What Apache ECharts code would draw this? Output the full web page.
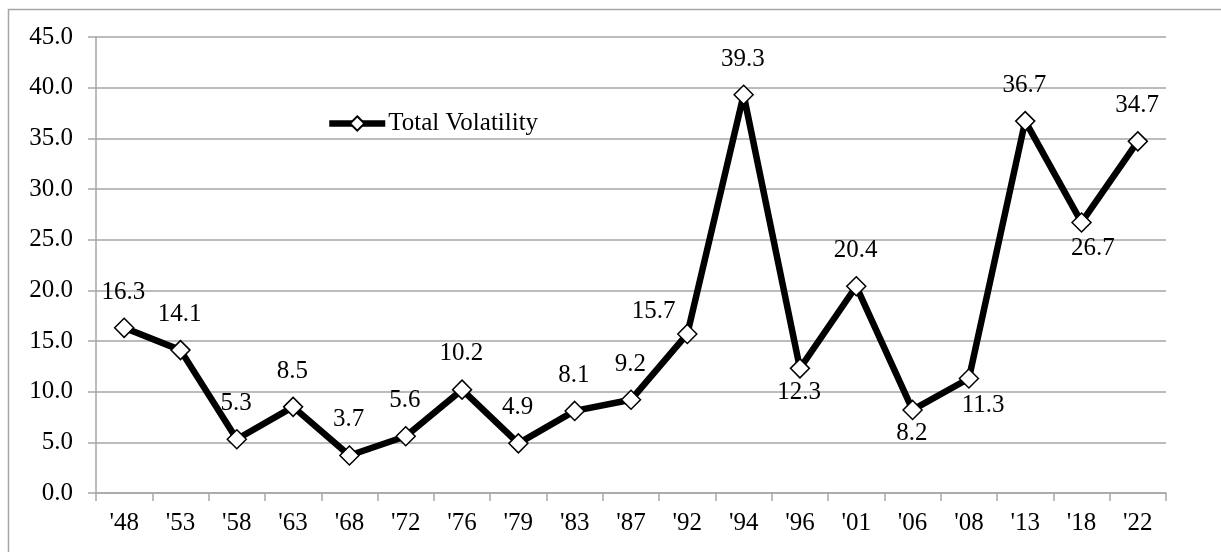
<!DOCTYPE html>
<html>
<head>
<meta charset="utf-8">
<script src="https://cdn.jsdelivr.net/npm/echarts@6/dist/echarts.min.js"></script>
<style>
html,body{margin:0;padding:0;background:#fff;}
#chart{width:1221px;height:552px;}
</style>
</head>
<body>
<div id="chart"></div>
<script>
const categories = ["'48","'53","'58","'63","'68","'72","'76","'79","'83","'87","'92","'94","'96","'01","'06","'08","'13","'18","'22"];
const totalVolatility = [16.3,14.1,5.3,8.5,3.7,5.6,10.2,4.9,8.1,9.2,15.7,39.3,12.3,20.4,8.2,11.3,36.7,26.7,34.7];
const seriesName = 'Total Volatility';
const yTicks = {min:0, max:45, interval:5};

// label placement (layout only)
const labelOffsets = {12:[0,25], 14:[0,24], 15:[15,28], 17:[12,27], 10:[-33,-22]};

const FONT = "'Liberation Serif','Times New Roman',serif";
const GRAY = '#a6a6a6';
const SYM = 19;

const chart = echarts.init(document.getElementById('chart'), null, {renderer:'canvas'});
const data = totalVolatility.map((v,i)=>{
  const o = labelOffsets[i] || [0,-35];
  return {
    value:v,
    label:{position:[SYM/2 + o[0], SYM/2 + o[1]], align:'center', verticalAlign:'middle'}
  };
});
chart.setOption({
  animation:false,
  backgroundColor:'#fff',
  graphic:[{
    type:'rect', shape:{x:8.5,y:9.5,width:1400,height:700},
    style:{fill:'none', stroke:GRAY, lineWidth:1.5}, silent:true, z:-10
  }],
  grid:{left:96,right:55,top:37,bottom:59,containLabel:false},
  legend:{
    data:[seriesName], left:326, top:111, padding:0, itemWidth:56, itemHeight:18, itemGap:5,
    lineStyle:{width:6.5},
    textStyle:{fontFamily:FONT,fontSize:25,color:'#000',padding:[0,0,0,-2]}
  },
  xAxis:{
    type:'category', data:categories, boundaryGap:true,
    axisLine:{show:true,lineStyle:{color:GRAY,width:1.5}},
    axisTick:{show:true,length:8,interval:0,alignWithLabel:false,lineStyle:{color:GRAY,width:1.5}},
    axisLabel:{interval:0,margin:18,fontFamily:FONT,fontSize:25,color:'#000'},
    splitLine:{show:false}
  },
  yAxis:{
    type:'value', min:yTicks.min, max:yTicks.max, interval:yTicks.interval,
    axisLine:{show:true,lineStyle:{color:GRAY,width:1.5}},
    axisTick:{show:true,length:8,lineStyle:{color:GRAY,width:1.5}},
    axisLabel:{margin:23,fontFamily:FONT,fontSize:25,color:'#000',formatter:v=>v.toFixed(1)},
    splitLine:{show:true,lineStyle:{color:GRAY,width:1.5}}
  },
  series:[{
    name:seriesName, type:'line', data:data,
    symbol:'diamond', symbolSize:SYM, showAllSymbol:true,
    lineStyle:{color:'#000',width:6.5},
    itemStyle:{color:'#fff',borderColor:'#000',borderWidth:1.5},
    label:{show:true,fontFamily:FONT,fontSize:25,color:'#000',formatter:p=>p.value.toFixed(1)},
    labelLayout:{hideOverlap:false}
  }]
});
</script>
</body>
</html>
